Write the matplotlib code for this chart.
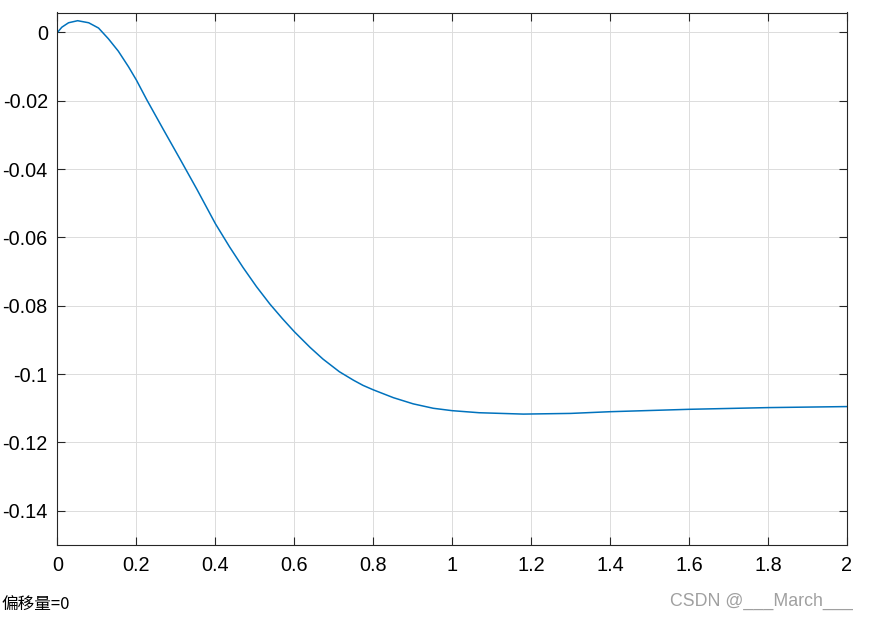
import matplotlib
matplotlib.use("Agg")
import matplotlib.pyplot as plt

plt.rcParams['font.family'] = ['Liberation Sans', 'Noto Sans CJK SC', 'DejaVu Sans']
plt.rcParams['axes.unicode_minus'] = False

# data
x = [0.0, 0.011, 0.028, 0.051, 0.079, 0.104, 0.129, 0.154, 0.18, 0.2, 0.226, 0.268,
     0.311, 0.353, 0.4, 0.436, 0.47, 0.504, 0.538, 0.57, 0.6, 0.64, 0.6725, 0.714,
     0.75, 0.774, 0.8, 0.851, 0.901, 0.952, 1.0, 1.068, 1.18, 1.3, 1.4, 1.6, 1.8, 2.0]
y = [0.0, 0.0015, 0.0028, 0.0034, 0.0028, 0.00125, -0.0019, -0.0055, -0.0101, -0.0140,
     -0.0197, -0.0284, -0.0372, -0.0459, -0.0560, -0.0628, -0.0688, -0.0744, -0.0795,
     -0.0838, -0.0876, -0.0922, -0.0956, -0.0993, -0.1018, -0.1033, -0.1046, -0.1069,
     -0.1087, -0.1100, -0.1107, -0.1113, -0.1117, -0.1115, -0.1110, -0.1103, -0.1098,
     -0.1095]

xticks = [0, 0.2, 0.4, 0.6, 0.8, 1, 1.2, 1.4, 1.6, 1.8, 2]
xticklabels = ['0', '0.2', '0.4', '0.6', '0.8', '1', '1.2', '1.4', '1.6', '1.8', '2']
yticks = [0, -0.02, -0.04, -0.06, -0.08, -0.1, -0.12, -0.14]
yticklabels = ['0', '-0.02', '-0.04', '-0.06', '-0.08', '-0.1', '-0.12', '-0.14']

caption = '偏移量=0'
watermark = 'CSDN @___March___'

fig = plt.figure(figsize=(8.7, 6.18), dpi=100)
ax = fig.add_axes([57.5/870, 1 - 545/618, (847 - 57.5)/870, (545 - 12.5)/618])

ax.plot(x, y, color='#0072BD', linewidth=1.1, solid_joinstyle='round')

ax.set_xlim(0, 2)
ax.set_ylim(-0.15, 0.0058)
ax.set_xticks(xticks)
ax.set_xticklabels(xticklabels)
ax.set_yticks(yticks)
ax.set_yticklabels(yticklabels)

ax.grid(True, color='#dcdcdc', linewidth=0.7)
ax.set_axisbelow(True)
ax.tick_params(direction='in', length=5.5, width=0.8, top=True, right=True,
               labelsize=14.3, colors='#262626', labelcolor='black')
ax.tick_params(axis='x', pad=8)
ax.tick_params(axis='y', pad=7)
for s in ax.spines.values():
    s.set_linewidth(0.8)
    s.set_color('#262626')

fig.text(2/870, 1 - 604/618, caption, fontsize=12,
         family=['Noto Sans CJK SC', 'DejaVu Sans'], va='center', ha='left')
fig.text(853/870, 1 - 601/618, watermark, fontsize=12.8, color='#a0a0a0',
         va='center', ha='right')

fig.savefig('out.png', dpi=100)
